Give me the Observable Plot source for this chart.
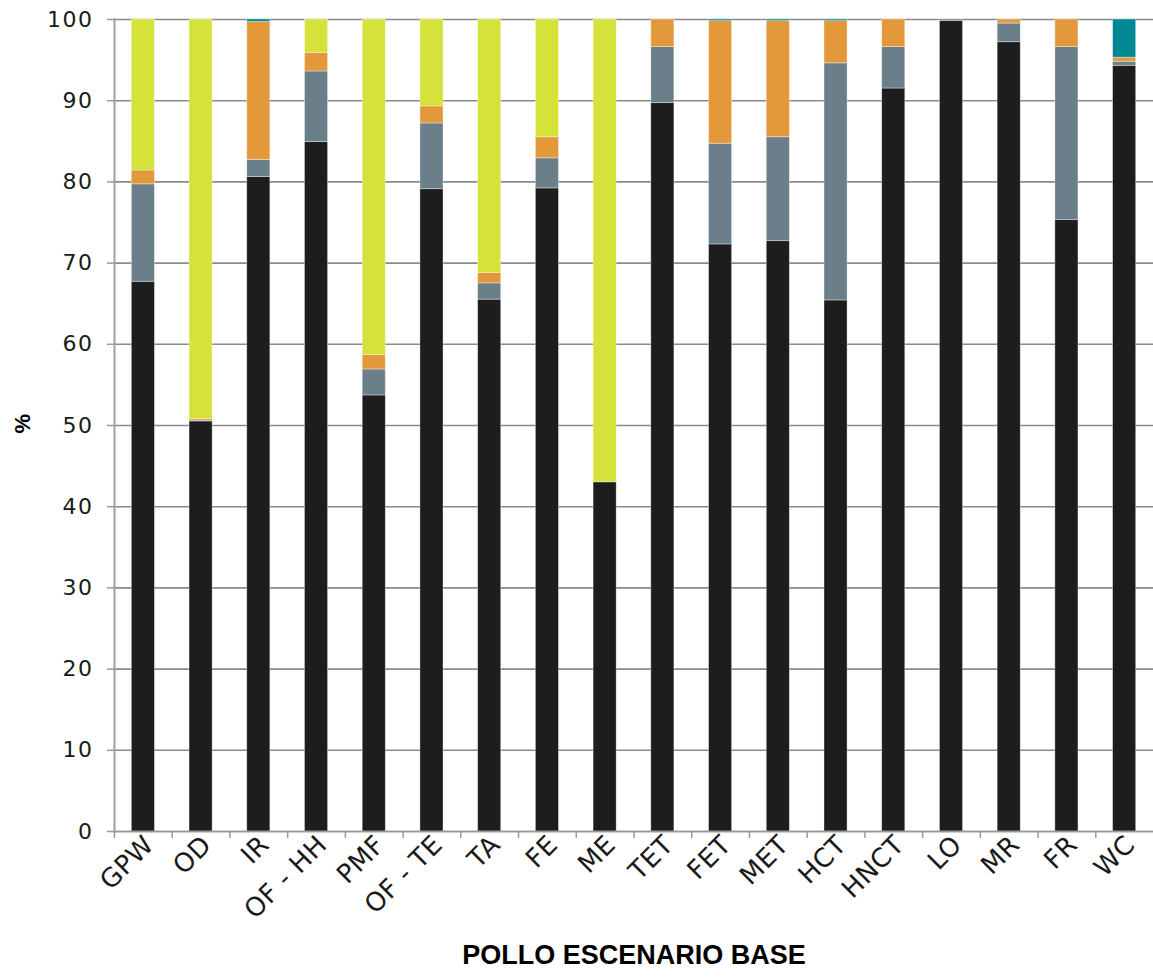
<!DOCTYPE html>
<html>
<head>
<meta charset="utf-8">
<script src="https://cdn.jsdelivr.net/npm/d3@7"></script>
<script src="https://cdn.jsdelivr.net/npm/@observablehq/plot@0.6"></script>
<style>
  html, body { margin: 0; padding: 0; background: #fff; }
  #chart svg { display: block; }
  .ytick text { letter-spacing: 1.5px; }
  .xtick text { letter-spacing: 0.5px; }
</style>
</head>
<body>
<div id="chart"></div>
<script>
// Categories (x axis)
const categories = ["GPW","OD","IR","OF - HH","PMF","OF - TE","TA","FE","ME","TET","FET","MET","HCT","HNCT","LO","MR","FR","WC"];
// Series names (bottom to top in each stack)
const seriesNames = ["Serie 1","Serie 2","Serie 3","Serie 4","Serie 5"];
const seriesColors = ["#1d1d1d","#6b7f8a","#e3993a","#d4e23a","#008893"];
// Values (%), one array per series
const serie1 = [67.7,50.5,80.6,84.9,53.7,79.1,65.5,79.2,43.0,89.7,72.3,72.7,65.4,91.5,99.8,97.2,75.3,94.3];
const serie2 = [12.0,0.1,2.1,8.7,3.2,8.1,2.0,3.7,0.0,6.9,12.4,12.8,29.2,5.1,0.2,2.3,21.3,0.5];
const serie3 = [1.7,0.2,17.0,2.3,1.8,2.1,1.3,2.6,0.0,3.4,15.1,14.3,5.2,3.4,0.0,0.5,3.4,0.5];
const serie4 = [18.6,49.2,0.0,4.1,41.3,10.7,31.2,14.5,57.0,0.0,0.0,0.0,0.0,0.0,0.0,0.0,0.0,0.0];
const serie5 = [0.0,0.0,0.3,0.0,0.0,0.0,0.0,0.0,0.0,0.0,0.2,0.2,0.2,0.0,0.0,0.0,0.0,4.7];
const yTicks = [0,10,20,30,40,50,60,70,80,90,100];
const xTitle = "POLLO ESCENARIO BASE";
const yTitle = "%";

const seriesValues = [serie1, serie2, serie3, serie4, serie5];
const rows = [];
seriesNames.forEach((s, i) => {
  categories.forEach((c, j) => rows.push({cat: c, series: s, value: seriesValues[i][j]}));
});

const W = 1153, H = 980, ML = 114, MR = 0, MT = 19, MB = 149;
const step = (W - ML - MR) / categories.length;

const chart = Plot.plot({
  width: W, height: H,
  marginLeft: ML, marginRight: MR, marginTop: MT, marginBottom: MB,
  style: {fontFamily: "'DejaVu Sans', 'Liberation Sans', Arial, sans-serif", fontSize: "22px", color: "#1a1a1a", background: "#fff", overflow: "visible"},
  x: {domain: categories, paddingInner: 0.6, paddingOuter: 0.3, align: 0.5, round: false, axis: null},
  y: {domain: [0, 100], axis: null},
  color: {domain: seriesNames, range: seriesColors},
  marks: [
    Plot.gridY(yTicks, {stroke: "#8a8a8a", strokeOpacity: 1, strokeWidth: 1.6}),
    Plot.barY(rows, {x: "cat", y: "value", fill: "series", stroke: "#ffffff", strokeOpacity: 0.45, strokeWidth: 0.8}),
    Plot.ruleY([0], {stroke: "#999", strokeWidth: 1.6}),
    Plot.frame({anchor: "left", stroke: "#a0a0a0", strokeWidth: 2}),
    Plot.axisY(yTicks, {tickSize: 7, tickPadding: 14, stroke: "#999", strokeWidth: 1.5, label: null, fontSize: 22, className: "ytick"}),
    Plot.axisX(categories, {tickSize: 7, text: null, dx: -step / 2, stroke: "#999", strokeWidth: 1.5, label: null}),
    Plot.axisX(categories, {tickSize: 0, tickPadding: 9, tickRotate: -45, dx: 6, label: null, fontSize: 26, className: "xtick"}),
    Plot.text([xTitle], {frameAnchor: "bottom", dy: 132, fontSize: 27, fontWeight: "bold", fontFamily: "'Liberation Sans Narrow', 'Arial Narrow', 'Liberation Sans', Arial, sans-serif", fill: "#000"}),
    Plot.text([yTitle], {frameAnchor: "left", dx: -92, dy: 8, rotate: -90, fontSize: 22, fontWeight: "bold", fontFamily: "'Liberation Sans', Arial, sans-serif", fill: "#000"})
  ]
});
document.getElementById("chart").appendChild(chart);
</script>
</body>
</html>
